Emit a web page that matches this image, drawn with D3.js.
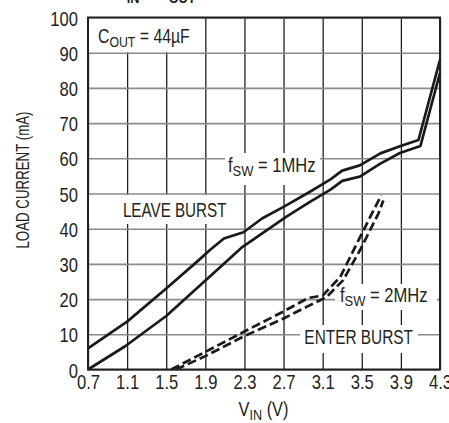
<!DOCTYPE html>
<html>
<head>
<meta charset="utf-8">
<script src="https://cdn.jsdelivr.net/npm/d3@7"></script>
<style>
  html, body { margin: 0; padding: 0; background: #fff; }
  svg { display: block; }
  text { font-family: "Liberation Sans", Arial, sans-serif; fill: #231f20; }
</style>
</head>
<body>
<svg id="chart" width="449" height="423"></svg>
<script>
// ---- data ----
const xTicks = [0.7, 1.1, 1.5, 1.9, 2.3, 2.7, 3.1, 3.5, 3.9, 4.3];
const yTicks = [0, 10, 20, 30, 40, 50, 60, 70, 80, 90, 100];

// fSW = 1MHz, leave burst (upper solid)
const leave1MHzV = [0.7, 1.1, 1.5, 1.83, 1.95, 2.09, 2.29, 2.48, 2.7, 2.97, 3.18, 3.3, 3.48, 3.69, 3.89, 4.08, 4.3];
const leave1MHzI = [6.0, 13.6, 23.0, 31.0, 34.0, 37.2, 39.0, 42.9, 46.2, 50.5, 54.0, 56.5, 58.0, 61.4, 63.4, 65.2, 88.0];
// fSW = 1MHz, enter burst (lower solid)
const enter1MHzV = [0.7, 1.08, 1.5, 1.98, 2.27, 2.53, 2.73, 2.97, 3.18, 3.3, 3.48, 3.69, 3.89, 4.1, 4.3];
const enter1MHzI = [0.0, 6.6, 15.2, 27.3, 34.6, 39.6, 43.4, 47.6, 51.1, 53.6, 54.8, 58.5, 61.5, 63.5, 84.3];
// fSW = 2MHz, leave burst (dashed)
const leave2MHzV = [1.55, 1.9, 2.3, 2.7, 2.95, 3.1, 3.28, 3.45, 3.62, 3.7];
const leave2MHzI = [0.0, 5.0, 10.8, 16.5, 20.3, 21.0, 26.3, 35.8, 45.2, 49.5];
// fSW = 2MHz, enter burst (dashed)
const enter2MHzV = [1.6, 1.9, 2.3, 2.7, 2.95, 3.14, 3.31, 3.48, 3.67, 3.72];
const enter2MHzI = [0.0, 3.8, 9.5, 14.5, 18.0, 20.6, 25.4, 33.8, 44.3, 48.0];

// ---- layout ----
const L = 88, R = 440, T = 17.5, B = 369.5;
const K = 0.83; // horizontal condensing of the type
const svg = d3.select("#chart");
const x = d3.scaleLinear().domain([0.7, 4.3]).range([L, R]);
const y = d3.scaleLinear().domain([0, 100]).range([B, T]);

// grid via axes
const gx = svg.append("g").attr("transform", `translate(0,${B})`)
  .call(d3.axisBottom(x).tickValues(xTicks).tickSize(-(B - T)).tickFormat(d3.format(".1f")));
gx.select(".domain").remove();
gx.selectAll(".tick line").attr("stroke", "#231f20").attr("stroke-width", 1.3);
gx.selectAll(".tick text").attr("y", 0).attr("dy", null)
  .attr("transform", `translate(0,19) scale(${K},1)`)
  .style("font-size", "20px").attr("fill", "#231f20");

const gy = svg.append("g").attr("transform", `translate(${L},0)`)
  .call(d3.axisLeft(y).tickValues(yTicks).tickSize(-(R - L)).tickFormat(d3.format("d")));
gy.select(".domain").remove();
gy.selectAll(".tick line").attr("stroke", "#8a8a8a").attr("stroke-width", 1.6);
gy.selectAll(".tick text").attr("x", 0).attr("dy", "0.38em")
  .attr("transform", `translate(-10,0) scale(${K},1)`)
  .style("font-size", "20px").attr("fill", "#231f20");

// white label backgrounds (hide grid under labels)
const boxes = [
  [L + 1, T + 1, 200 - L, 52 - T - 1],
  [L + 1, 195, 239 - L, 224 - 195],
  [225, 153, 320 - 225, 185 - 153],
  [335, 284, 437 - 335, 310 - 284],
  [300, 325, 418 - 300, 353 - 325]
];
svg.append("g").selectAll("rect").data(boxes).join("rect")
  .attr("x", d => d[0]).attr("y", d => d[1]).attr("width", d => d[2]).attr("height", d => d[3])
  .attr("fill", "#fff");

// labels
function placed(xp, yp, k, anchor) {
  return svg.append("text").attr("transform", `translate(${xp},${yp}) scale(${k},1)`)
    .attr("text-anchor", anchor || "start");
}
function subLabel(xp, yp, main, sub, rest, size, k) {
  const t = placed(xp, yp, k).style("font-size", size + "px");
  t.append("tspan").text(main);
  t.append("tspan").attr("dy", 4).style("font-size", (size * 0.78) + "px").text(sub);
  t.append("tspan").attr("dy", -4).text(rest);
  return t;
}
subLabel(98, 43.3, "C", "OUT", " = 44µF", 19.5, 0.81);
placed(174.7, 217, 0.78, "middle").style("font-size", "19.5px").text("LEAVE BURST");
subLabel(228, 171.7, "f", "SW", " = 1MHz", 19.5, 0.85);
subLabel(340, 301.7, "f", "SW", " = 2MHz", 19.5, 0.85);
placed(358.7, 344, 0.79, "middle").style("font-size", "19.5px").text("ENTER BURST");

// curves
const line = d3.line().x(d => x(d[0])).y(d => y(d[1]));
const series = [
  { v: leave1MHzV, i: leave1MHzI, dash: null },
  { v: enter1MHzV, i: enter1MHzI, dash: null },
  { v: leave2MHzV, i: leave2MHzI, dash: "9,4" },
  { v: enter2MHzV, i: enter2MHzI, dash: "9,4" }
];
svg.append("g").selectAll("path").data(series).join("path")
  .attr("d", s => line(s.v.map((v, k) => [v, s.i[k]])))
  .attr("fill", "none").attr("stroke", "#1a1a1a").attr("stroke-width", 2.7)
  .attr("stroke-linejoin", "round")
  .attr("stroke-dasharray", s => s.dash);

// border
svg.append("rect").attr("x", L).attr("y", T).attr("width", R - L).attr("height", B - T)
  .attr("fill", "none").attr("stroke", "#231f20").attr("stroke-width", 2);

// axis titles
svg.append("text").attr("transform", "translate(29,180) rotate(-90) scale(0.76,1)").attr("text-anchor", "middle")
  .style("font-size", "17.5px").text("LOAD CURRENT (mA)");
const xt = placed(263.5, 416, 0.84, "middle").style("font-size", "19.5px");
xt.append("tspan").text("V");
xt.append("tspan").attr("dy", 4).style("font-size", "15px").text("IN");
xt.append("tspan").attr("dy", -4).text(" (V)");

// cut-off title at the very top
const tt = placed(116, -2, 0.85).style("font-size", "19px").style("font-weight", "bold");
tt.append("tspan").text("V");
tt.append("tspan").attr("dy", 5).style("font-size", "15px").text("IN");
tt.append("tspan").attr("dy", -5).text(" = V");
tt.append("tspan").attr("dy", 5).style("font-size", "15px").text("OUT");
</script>
</body>
</html>
